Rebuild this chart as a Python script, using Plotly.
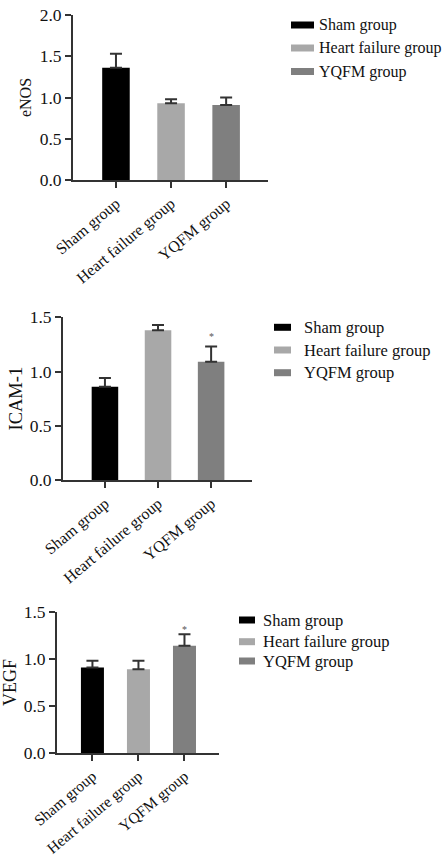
import plotly.graph_objects as go

W, H = 445, 857

groups = ["Sham group", "Heart failure group", "YQFM group"]
colors = ["#000000", "#a8a8a8", "#7f7f7f"]

enos_mean = [1.36, 0.93, 0.91]
enos_err = [0.17, 0.05, 0.09]
icam_mean = [0.86, 1.38, 1.09]
icam_err = [0.08, 0.05, 0.14]
vegf_mean = [0.91, 0.89, 1.14]
vegf_err = [0.07, 0.09, 0.12]

y_titles = ["eNOS", "ICAM-1", "VEGF"]
y_max = [2.0, 1.5, 1.5]
y_ticks = [[0, 0.5, 1.0, 1.5, 2.0], [0, 0.5, 1.0, 1.5], [0, 0.5, 1.0, 1.5]]
star_y = [None, 1.32, 1.31]  # significance marker on YQFM group

FONT = "Liberation Serif, Times New Roman, serif"

def px_x(p):
    return p / W

def px_y(p):
    return 1 - p / H

# layout geometry (pixels)
panels = [
    dict(x0=73, x1=268, ytop=15, ybot=180, xr=[-0.78, 2.76], tf=17.5, yf=16, xf=16,
         leg_x=291, sw=23, leg_rows=[25, 48, 71.5], txt_x=317, lf=16, cap=6, st=4),
    dict(x0=63, x1=252, ytop=317.3, ybot=480, xr=[-0.79, 2.77], tf=17.5, yf=18.5, xf=16,
         leg_x=274, sw=17, leg_rows=[327.3, 350, 372.7], txt_x=302, lf=16.5, cap=6, st=2),
    dict(x0=57, x1=219, ytop=611.7, ybot=753.3, xr=[-0.77, 2.75], tf=17.5, yf=18, xf=15.5,
         leg_x=239, sw=16, leg_rows=[620, 641.7, 661], txt_x=261, lf=16.5, cap=6, st=5),
]

means = [enos_mean, icam_mean, vegf_mean]
errs = [enos_err, icam_err, vegf_err]

fig = go.Figure()
shapes = []
annotations = []

for i, p in enumerate(panels):
    sfx = "" if i == 0 else str(i + 1)
    fig.add_trace(go.Bar(
        x=groups, y=means[i],
        marker=dict(color=colors, line=dict(width=0)),
        width=0.5,
        error_y=dict(type="data", array=errs[i], symmetric=False, arrayminus=[0, 0, 0],
                     color="#333333", thickness=2, width=p["cap"]),
        xaxis="x" + sfx, yaxis="y" + sfx, showlegend=False,
    ))
    axis_common = dict(showline=True, linecolor="#333333", linewidth=2,
                       ticks="outside", ticklen=6, tickwidth=2, tickcolor="#333333",
                       showgrid=False, zeroline=False, automargin=False)
    fig.layout["xaxis" + sfx] = dict(
        domain=[px_x(p["x0"]), px_x(p["x1"])], anchor="y" + sfx,
        type="category", categoryorder="array", categoryarray=groups,
        range=p["xr"], tickangle=-40,
        tickfont=dict(family=FONT, size=p["xf"], color="#111"),
        **axis_common)
    fig.layout["yaxis" + sfx] = dict(
        domain=[px_y(p["ybot"]), px_y(p["ytop"])], anchor="x" + sfx,
        range=[0, y_max[i]], tickvals=y_ticks[i], tickformat=".1f",
        tickfont=dict(family=FONT, size=p["tf"], color="#111"),
        title=dict(text=y_titles[i], font=dict(family=FONT, size=p["yf"], color="#111"), standoff=p["st"]),
        **axis_common)
    if star_y[i] is not None:
        annotations.append(dict(x=groups[2], y=star_y[i], xref="x" + sfx, yref="y" + sfx,
                                text="*", showarrow=False, yanchor="middle",
                                font=dict(family=FONT, size=10, color="#555")))
    # legend
    for g, (name, col) in enumerate(zip(groups, colors)):
        cy = p["leg_rows"][g]
        shapes.append(dict(type="rect", xref="paper", yref="paper",
                           x0=px_x(p["leg_x"]), x1=px_x(p["leg_x"] + p["sw"]),
                           y0=px_y(cy + 3.5), y1=px_y(cy - 3.5),
                           fillcolor=col, line=dict(width=0)))
        annotations.append(dict(x=px_x(p["txt_x"]), y=px_y(cy), xref="paper", yref="paper",
                                text=name, showarrow=False, xanchor="left", yanchor="middle",
                                font=dict(family=FONT, size=p["lf"], color="#111")))

fig.update_layout(
    template="none",
    width=W, height=H, margin=dict(l=0, r=0, t=0, b=0, autoexpand=False),
    paper_bgcolor="white", plot_bgcolor="white",
    shapes=shapes, annotations=annotations, bargap=0.5,
    font=dict(family=FONT),
)

fig.write_html("out.html")
